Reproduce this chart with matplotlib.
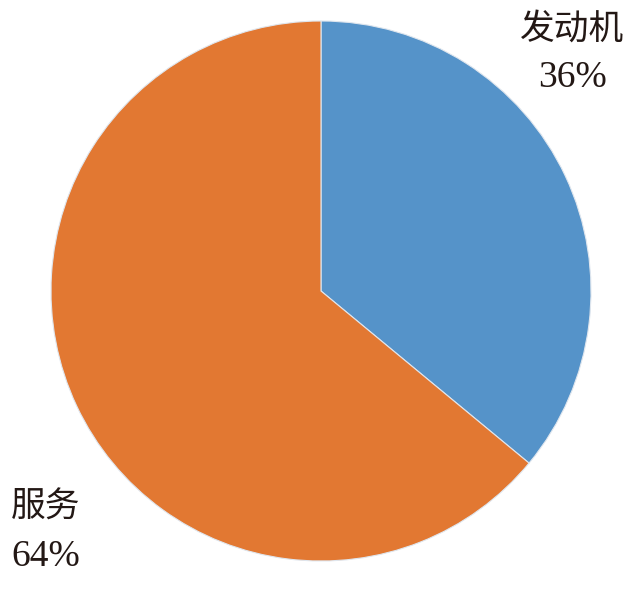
import matplotlib
matplotlib.use("Agg")
import matplotlib.pyplot as plt

categories = ["发动机", "服务"]
values = [36, 64]
colors = ["#5593C9", "#E27832"]

W, H = 635, 590
fig = plt.figure(figsize=(W / 100, H / 100), dpi=100)
cx, cy, r = 321, 291, 270
ax = fig.add_axes([(cx - r) / W, (H - cy - r) / H, 2 * r / W, 2 * r / H])
ax.pie(values, colors=colors, startangle=90, counterclock=False, radius=1,
       wedgeprops=dict(edgecolor="#dfe6ee", linewidth=0.8))
ax.set_xlim(-1, 1)
ax.set_ylim(-1, 1)
ax.set_aspect("equal")
ax.axis("off")

fam = ["Liberation Serif", "Noto Sans CJK SC"]
label_pos = [(572, 30, 78), (46, 508, 557)]
for cat, val, (px, py1, py2) in zip(categories, values, label_pos):
    fig.text(px / W, 1 - py1 / H, cat, ha="center", va="center",
             fontsize=25, family=fam, color="#231815")
    fig.text(px / W, 1 - py2 / H, f"{val}%", ha="center", va="center",
             fontsize=27, family=fam, color="#231815")

fig.savefig("out.png", dpi=100)
